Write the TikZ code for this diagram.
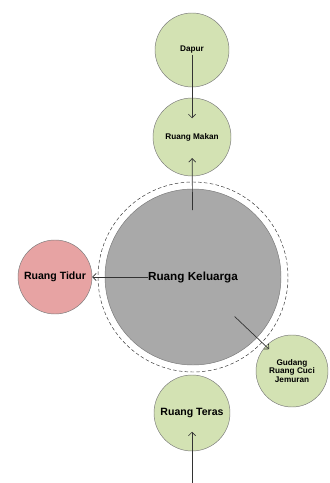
\documentclass[tikz,border=0pt]{standalone}
\usepackage{fontspec}
\setsansfont{Liberation Sans}
\usepackage{xcolor}
\usetikzlibrary{positioning, arrows.meta}
\definecolor{RoomGreen}{HTML}{D3E2B3}
\definecolor{RoomRed}{HTML}{E7A3A3}
\definecolor{RoomGrey}{HTML}{A9A9A9}
\definecolor{EdgeGrey}{HTML}{7A7A7A}
\definecolor{LinkDark}{HTML}{333333}

\begin{document}
\begin{tikzpicture}[
            x=0.03cm, y=-0.03cm,
            room/.style={circle, draw=EdgeGrey, thin, fill=RoomGreen, align=center, inner sep=0pt, font=\sffamily\bfseries\scriptsize},
            bedroom/.style={room, fill=RoomRed, font=\sffamily\bfseries\small},
            living/.style={circle, draw=EdgeGrey, thin, fill=RoomGrey, inner sep=0pt, font=\sffamily\bfseries\normalsize},
            ring/.style={circle, draw=LinkDark, densely dashed, thin, inner sep=0pt},
            link/.style={draw=LinkDark, semithick, -{Straight Barb[length=3pt, width=6pt]}}
        ]
            \useasboundingbox (0,0) rectangle (329,483);

            \node[ring, minimum size=5.7cm] at (193, 277) (ringKeluarga) {};
            \node[living, minimum size=5.28cm] at (193, 277) (keluarga) {Ruang Keluarga};

            \node[room, minimum size=2.22cm] at (192, 50) (dapur) {Dapur};
            \node[room, minimum size=2.34cm] at (192, 137) (makan) {Ruang Makan};
            \node[bedroom, minimum size=2.22cm] at (55, 277) (tidur) {Ruang Tidur};
            \node[room, minimum size=2.16cm, font=\sffamily\bfseries\scriptsize] at (292, 371) (gudang) {Gudang\\[-1pt] Ruang Cuci\\[-1pt] Jemuran};
            \node[room, minimum size=2.28cm, font=\sffamily\bfseries\small] at (192, 413) (teras) {Ruang Teras};

            \coordinate (masuk) at (192, 483);

            % alur antar ruang
            \draw[link, shorten <=4pt, shorten >=16pt] (dapur.center) -- (makan.center);
            \draw[link, shorten <=57pt, shorten >=18pt] (keluarga.center) -- (makan.center);
            \draw[link, shorten <=38pt] (keluarga.center) -- (tidur.east);
            \draw[link, shorten <=49pt, shorten >=27pt] (keluarga.center) -- (gudang.center);
            \draw[link, shorten >=16pt] (masuk) -- (teras.center);

        \end{tikzpicture}
\end{document}
